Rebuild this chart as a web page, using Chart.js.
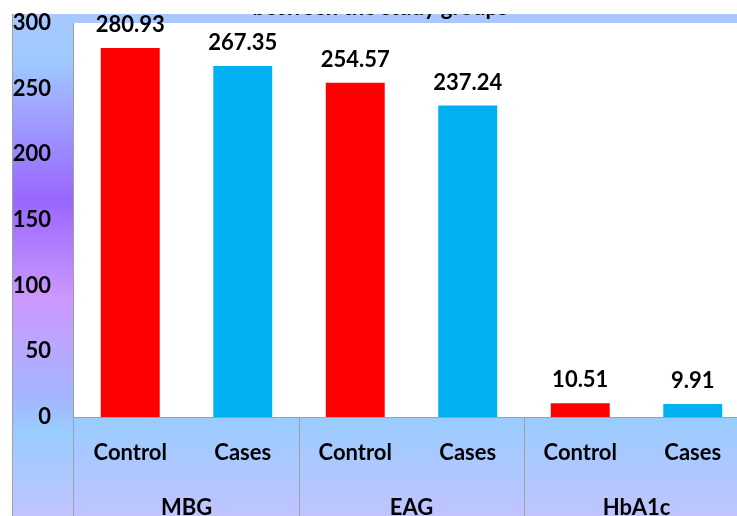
<!DOCTYPE html>
<html>
<head>
<meta charset="utf-8">
<script src="https://cdn.jsdelivr.net/npm/chart.js@4"></script>
<style>
  html, body { margin: 0; padding: 0; background: #fff; overflow: hidden; }
  #wrap { width: 737px; height: 516px; overflow: hidden; }
</style>
</head>
<body>
<div id="wrap"><canvas id="chart" width="749" height="516"></canvas></div>
<script>
// Data
const groups = ['MBG', 'EAG', 'HbA1c'];
const subgroups = ['Control', 'Cases'];
const controlValues = [280.93, 254.57, 10.51];
const casesValues = [267.35, 237.24, 9.91];
const yMin = 0;
const yMax = 300;
const yStep = 50;
const titleText = 'between the study groups';

const RED = '#ff0000';
const CYAN = '#00b0f0';
const FONT = "Lato, 'DejaVu Sans Condensed', sans-serif";

// one bar per (group, subgroup)
const labels = groups.flatMap(() => subgroups);
const values = groups.flatMap((g, i) => [controlValues[i], casesValues[i]]);
const colors = groups.flatMap(() => [RED, CYAN]);

Chart.defaults.font.family = FONT;
Chart.defaults.color = '#000';

// panels, band, separators and clipped title
const backdrop = {
    id: 'backdrop',
    beforeDraw(chart) {
        const ctx = chart.ctx;
        const area = chart.chartArea;
        const H = chart.height;
        ctx.save();
        // top band
        ctx.fillStyle = '#a8c8ff';
        ctx.fillRect(12, 14, chart.width - 12, area.top - 14);
        // y axis panel
        let g = ctx.createLinearGradient(0, 14, 0, H);
        g.addColorStop(0, '#a6c8ff');
        g.addColorStop(0.09, '#9ecbff');
        g.addColorStop(0.18, '#a0a8ff');
        g.addColorStop(0.37, '#9966ff');
        g.addColorStop(0.57, '#cc99ff');
        g.addColorStop(0.76, '#a4b4ff');
        g.addColorStop(0.83, '#99ccff');
        g.addColorStop(1, '#c0c4ff');
        ctx.fillStyle = g;
        ctx.fillRect(12, 14, area.left - 12, H - 14);
        // x axis panel
        g = ctx.createLinearGradient(0, area.bottom, 0, H);
        g.addColorStop(0, '#99ccff');
        g.addColorStop(1, '#c0c4ff');
        ctx.fillStyle = g;
        ctx.fillRect(area.left, area.bottom, chart.width - area.left, H - area.bottom);
        // borders
        ctx.strokeStyle = '#a0a0a0';
        ctx.lineWidth = 1;
        ctx.beginPath();
        ctx.moveTo(12.5, 14); ctx.lineTo(12.5, H);
        ctx.moveTo(area.left - 0.5, area.top); ctx.lineTo(area.left - 0.5, H);
        ctx.moveTo(area.left, area.bottom + 0.5); ctx.lineTo(chart.width, area.bottom + 0.5);
        // group separators
        const xs = chart.scales.x;
        const step = (xs.right - xs.left) / groups.length;
        for (let i = 1; i < groups.length; i++) {
            const px = Math.round(xs.left + i * step) + 0.5;
            ctx.moveTo(px, area.bottom); ctx.lineTo(px, H);
        }
        ctx.stroke();
        // title, only its lower part shows inside the band
        ctx.beginPath();
        ctx.rect(12, 14, chart.width - 12, area.top - 14);
        ctx.clip();
        ctx.fillStyle = '#000';
        ctx.font = 'bold 22px ' + FONT;
        ctx.textAlign = 'center';
        ctx.textBaseline = 'alphabetic';
        ctx.fillText(titleText, 380, 15);
        ctx.restore();
    }
};

// value labels above bars
const valueLabels = {
    id: 'valueLabels',
    afterDatasetsDraw(chart) {
        const ctx = chart.ctx;
        const meta = chart.getDatasetMeta(0);
        ctx.save();
        ctx.fillStyle = '#000';
        ctx.font = 'bold 22px ' + FONT;
        ctx.textAlign = 'center';
        ctx.textBaseline = 'middle';
        meta.data.forEach((bar, i) => {
            ctx.fillText(values[i].toFixed(2), bar.x, bar.y - 23);
        });
        ctx.restore();
    }
};

new Chart(document.getElementById('chart'), {
    type: 'bar',
    data: {
        labels: labels,
        datasets: [{
            data: values,
            backgroundColor: colors,
            borderWidth: 0,
            categoryPercentage: 1,
            barPercentage: 0.524
        }]
    },
    options: {
        responsive: false,
        animation: false,
        layout: { padding: { left: 12, top: 23, right: 0, bottom: 0 } },
        plugins: {
            legend: { display: false },
            tooltip: { enabled: false }
        },
        scales: {
            y: {
                min: yMin,
                max: yMax,
                ticks: { stepSize: yStep, padding: 23, font: { size: 22, weight: 'bold' } },
                grid: { display: false, drawTicks: false },
                border: { display: false },
                afterFit(scale) {
                    scale.width = 62;
                    scale.paddingTop = 0;
                    scale.paddingBottom = 0;
                }
            },
            x: {
                weight: 0,
                ticks: { padding: 23, font: { size: 22, weight: 'bold' }, maxRotation: 0, autoSkip: false },
                grid: { display: false, drawTicks: false },
                border: { display: false },
                afterFit(scale) { scale.height = 52; }
            },
            x2: {
                type: 'category',
                labels: groups,
                position: 'bottom',
                offset: true,
                weight: 1,
                ticks: { padding: 26, font: { size: 22, weight: 'bold' }, maxRotation: 0 },
                grid: { display: false, drawTicks: false },
                border: { display: false },
                afterFit(scale) { scale.height = 47; }
            }
        }
    },
    plugins: [backdrop, valueLabels]
});
</script>
</body>
</html>
